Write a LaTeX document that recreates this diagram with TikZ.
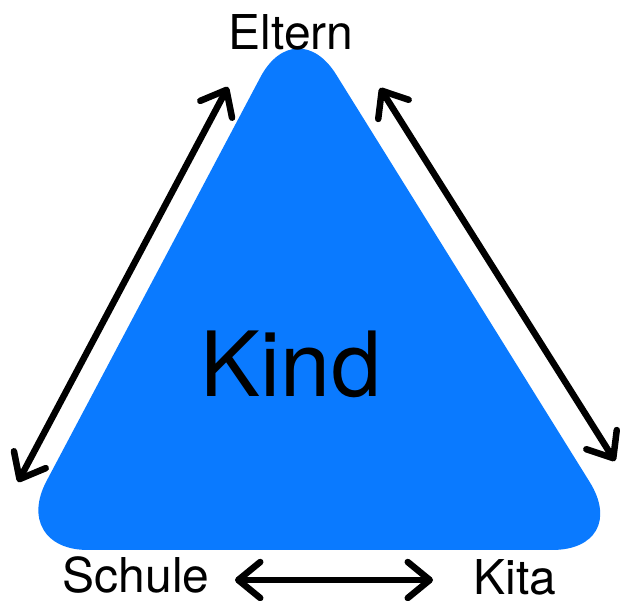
\documentclass[tikz,border=0pt]{standalone}
\usepackage{fontspec}
\setmainfont{TeX Gyre Heros}
\usetikzlibrary{arrows.meta}
\definecolor{kindblau}{RGB}{10,122,255}
\tikzstyle{every node}=[inner sep=0pt, anchor=base, text=black]
\tikzset{doppelpfeil/.style={line width=6.5pt, line cap=round,
      {Straight Barb[length=22pt,width=36pt,round]}-{Straight Barb[length=22pt,width=36pt,round]}}}
\tikzset{beschriftung/.style={font=\fontsize{48}{56}\selectfont}}

\begin{document}
\begin{tikzpicture}[x=1pt,y=-1pt]
    \useasboundingbox (0,0) rectangle (622,601);
    \fill[kindblau] (320,550) [rounded corners=80pt] -- (632,550) [rounded corners=76pt] -- (296,10) [rounded corners=78pt] -- (10,550) -- cycle;

    \node[font=\fontsize{90}{100}\selectfont] (kind) at (291,397) {Kind};
    \node[beschriftung] (eltern) at (291,50) {Eltern};
    \node[beschriftung] (schule) at (136,593) {Schule};
    \node[beschriftung] (kita) at (515,595) {Kita};

    \coordinate (lo) at (228,87);
    \coordinate (lu) at (18,482);
    \coordinate (ro) at (380,88);
    \coordinate (ru) at (615,461);
    \coordinate (ul) at (235,580);
    \coordinate (ur) at (433,580);
    \draw[doppelpfeil] (lo) -- (lu);
    \draw[doppelpfeil] (ro) -- (ru);
    \draw[doppelpfeil] (ul) -- (ur);
\end{tikzpicture}
\end{document}
